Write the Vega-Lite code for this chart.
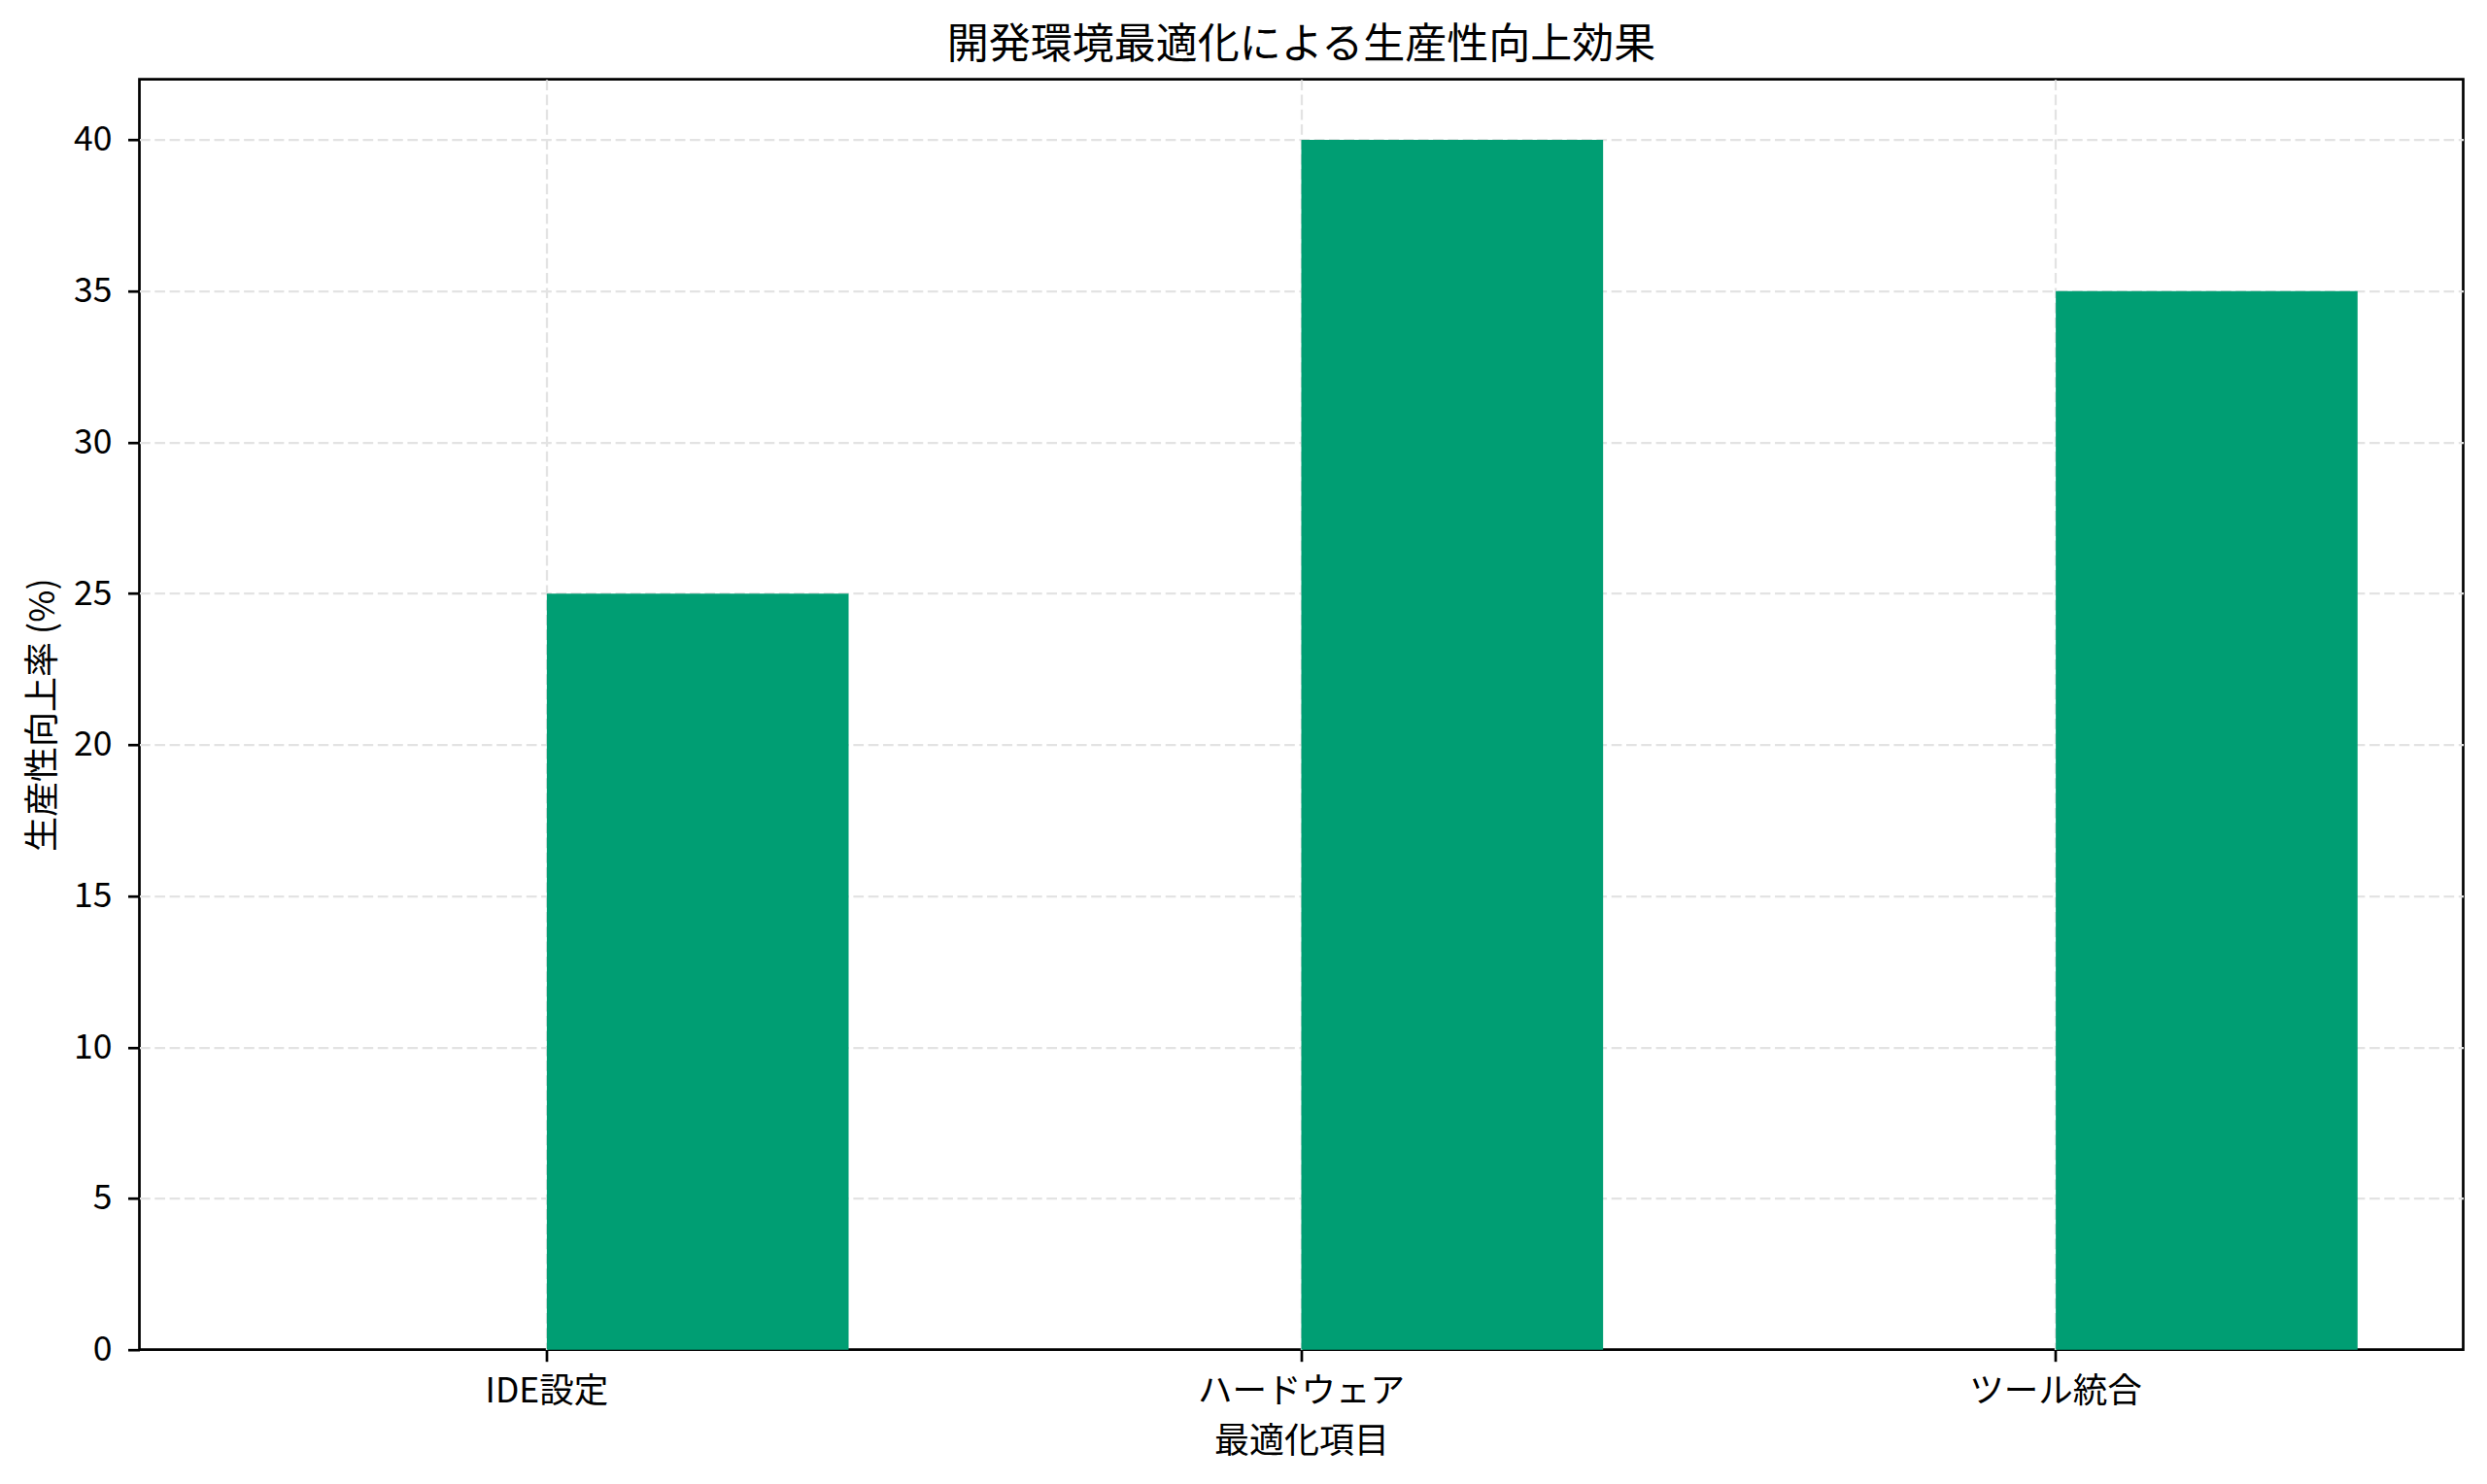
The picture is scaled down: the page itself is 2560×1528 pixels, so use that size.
{
  "$schema": "https://vega.github.io/schema/vega-lite/v6.json",
  "width": 2392,
  "height": 1308,
  "autosize": {"type": "none"},
  "padding": {"left": 143.5, "top": 81.7, "right": 24.5, "bottom": 138.3},
  "background": "white",
  "config": {
    "font": "Noto Sans CJK JP",
    "view": {"stroke": "black", "strokeWidth": 2.7}
  },
  "title": {
    "text": "開発環境最適化による生産性向上効果",
    "fontSize": 43,
    "fontWeight": "normal",
    "color": "black",
    "anchor": "middle",
    "offset": 13,
    "font": "Noto Sans CJK JP"
  },
  "data": {
    "values": [
      {"項目": "IDE設定", "系列": "最適化後", "生産性向上率": 25},
      {"項目": "ハードウェア", "系列": "最適化後", "生産性向上率": 40},
      {"項目": "ツール統合", "系列": "最適化後", "生産性向上率": 35}
    ]
  },
  "mark": {"type": "bar", "color": "#009E73"},
  "encoding": {
    "x": {
      "field": "項目",
      "type": "nominal",
      "sort": null,
      "scale": {"paddingInner": 0.2, "paddingOuter": 0.14, "align": 0.5},
      "axis": {
        "title": "最適化項目",
        "titleFontSize": 36,
        "titleFontWeight": "normal",
        "titleColor": "black",
        "titleBaseline": "middle",
        "titleY": 95,
        "labelAngle": 0,
        "labelFontSize": 35.5,
        "labelColor": "black",
        "labelBaseline": "middle",
        "labelPadding": 31,
        "labelLimit": 0,
        "domain": false,
        "ticks": true,
        "tickSize": 12,
        "tickWidth": 2.7,
        "tickColor": "black",
        "bandPosition": 0.5,
        "grid": true,
        "gridColor": "#e3e3e3",
        "gridWidth": 2.3,
        "gridDash": [10.7, 4.6]
      }
    },
    "xOffset": {
      "field": "系列",
      "type": "nominal",
      "scale": {"domain": ["最適化前", "最適化後"], "paddingInner": 0, "paddingOuter": 0}
    },
    "y": {
      "field": "生産性向上率",
      "type": "quantitative",
      "scale": {"domain": [0, 42], "nice": false, "zero": true},
      "axis": {
        "title": "生産性向上率 (%)",
        "titleFontSize": 36,
        "titleFontWeight": "normal",
        "titleColor": "black",
        "titleAngle": -90,
        "titleBaseline": "middle",
        "titleAlign": "center",
        "titleX": -99,
        "titleY": 654,
        "values": [0, 5, 10, 15, 20, 25, 30, 35, 40],
        "labelFontSize": 35.5,
        "labelColor": "black",
        "labelPadding": 16.5,
        "domain": false,
        "tickSize": 12,
        "tickWidth": 2.7,
        "tickColor": "black",
        "grid": true,
        "gridColor": "#e3e3e3",
        "gridOpacity": {"condition": {"test": "datum.value === 0", "value": 0}, "value": 1},
        "gridWidth": 2.3,
        "gridDash": [10.7, 4.6]
      }
    }
  }
}
